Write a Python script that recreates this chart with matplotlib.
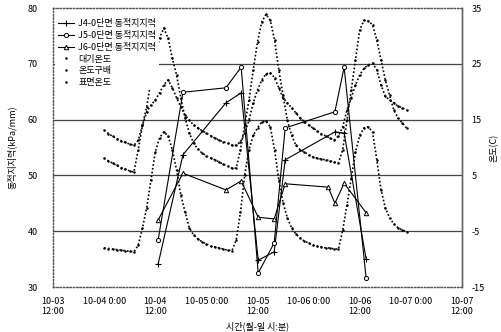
import pandas as pd
import matplotlib
matplotlib.use("Agg")
import matplotlib.pyplot as plt

plt.rcParams['font.family'] = ['Noto Sans CJK KR', 'DejaVu Sans']
plt.rcParams['axes.unicode_minus'] = False

# dynamic bearing capacity (kPa/mm), left axis
j45_time = ['2003-10-04 12:40', '2003-10-04 18:30', '2003-10-05 04:35', '2003-10-05 08:10',
            '2003-10-05 12:10', '2003-10-05 15:55', '2003-10-05 18:30', '2003-10-06 06:10',
            '2003-10-06 08:20', '2003-10-06 13:30']
j6_time = ['2003-10-04 12:40', '2003-10-04 18:30', '2003-10-05 04:35', '2003-10-05 08:10',
           '2003-10-05 12:10', '2003-10-05 15:55', '2003-10-05 18:30', '2003-10-06 04:35',
           '2003-10-06 06:10', '2003-10-06 08:20', '2003-10-06 13:30']
j4 = [34.1, 53.7, 63.0, 64.8, 34.8, 36.3, 52.8, 57.8, 57.6, 35.0]
j5 = [38.4, 64.9, 65.7, 69.4, 32.5, 37.9, 58.5, 61.4, 69.4, 31.6]
j6 = [42.0, 50.4, 47.4, 49.0, 42.5, 42.2, 48.5, 47.9, 45.0, 48.6, 43.3]

# hourly temperatures (C), right axis, from 10-04 0:00
air_temp = [13.1, 12.5, 12.0, 11.6, 11.2, 10.9, 10.6, 10.4, 11.3, 14.0, 16.4, 17.6,
            18.5, 19.8, 21.2, 22.1, 20.7, 18.9, 17.3, 15.8, 14.9, 14.0, 13.5, 13.0,
            12.6, 12.1, 11.7, 11.3, 11.0, 10.8, 10.4, 10.4, 11.0, 12.6, 14.9, 18.0,
            20.3, 22.1, 23.2, 23.4, 22.5, 20.7, 18.9, 18.0, 17.1, 16.2, 15.3, 14.6,
            14.0, 13.5, 13.0, 12.4, 12.1, 11.7, 11.3, 12.1, 13.7, 16.7, 18.9, 21.2,
            23.0, 24.2, 24.8, 25.1, 23.9, 21.2, 19.2, 18.5, 18.0, 17.4, 17.1, 16.7]
gradient = [-8.0, -8.1, -8.2, -8.3, -8.4, -8.5, -8.6, -8.7, -7.5, -4.4, -0.8, 4.2,
            9.2, 11.7, 12.8, 12.1, 9.6, 6.0, 1.5, -1.6, -4.4, -5.7, -6.4, -6.9,
            -7.3, -7.7, -7.8, -8.0, -8.2, -8.4, -8.5, -6.6, -1.6, 5.1, 9.6, 12.2,
            13.5, 14.6, 14.7, 13.7, 9.6, 4.2, 0.1, -2.6, -4.4, -5.5, -6.2, -6.8,
            -7.1, -7.5, -7.7, -7.8, -8.0, -8.0, -8.2, -8.2, -4.8, -0.3, 4.5, 9.2,
            12.2, 13.5, 13.7, 12.8, 7.8, 2.4, -0.8, -2.6, -3.7, -4.4, -4.8, -5.1]
surface_temp = [8.1, 7.6, 7.2, 6.8, 6.4, 6.1, 5.8, 5.6, 9.6, 14.0, 17.3, 22.1,
                26.6, 29.6, 31.4, 29.6, 26.0, 23.0, 18.9, 15.3, 12.6, 10.8, 9.7, 9.0,
                8.5, 8.1, 7.8, 7.4, 7.0, 6.7, 6.3, 6.3, 9.6, 14.0, 18.5, 23.9,
                28.9, 32.5, 33.9, 32.8, 29.3, 23.9, 19.4, 14.9, 12.2, 10.4, 9.6, 9.2,
                8.7, 8.3, 8.1, 7.9, 7.8, 7.6, 7.4, 7.2, 9.6, 14.9, 20.3, 25.7,
                31.1, 32.8, 32.7, 32.0, 29.3, 25.7, 22.1, 19.4, 16.7, 15.3, 14.4, 13.5]
temp_time = pd.date_range('2003-10-04 00:00', periods=len(air_temp), freq='h')

tick_time = pd.date_range('2003-10-03 12:00', '2003-10-07 12:00', freq='12h')
tick_labels = ['10-03\n12:00', '10-04 0:00', '10-04\n12:00', '10-05 0:00', '10-05\n12:00',
               '10-06 0:00', '10-06\n12:00', '10-07 0:00', '10-07\n12:00']

fig = plt.figure(figsize=(5.02, 3.32), dpi=100)
ax = fig.add_axes([0.1056, 0.1355, 0.8147, 0.8404])
ax2 = ax.twinx()

for lv in [40, 50, 60, 70]:
    ax.axhline(lv, color='#444444', lw=0.9, zorder=0)

ax.plot(pd.to_datetime(j45_time), j4, color='k', lw=0.8, marker='+', ms=4, mew=0.8,
        label='J4-0단면 동적지지력')
ax.plot(pd.to_datetime(j45_time), j5, color='k', lw=0.8, marker='o', ms=3, mfc='white',
        mew=0.7, label='J5-0단면 동적지지력')
ax.plot(pd.to_datetime(j6_time), j6, color='k', lw=0.8, marker='^', ms=3.2, mfc='white',
        mew=0.7, label='J6-0단면 동적지지력')

temps = [(air_temp, '대기온도'), (gradient, '온도구배'), (surface_temp, '표면온도')]
for vals, name in temps:
    ax2.plot(temp_time, vals, color='k', lw=1.2, ls=(0, (1, 1.3)))
    ax2.plot(temp_time, vals, color='k', ls='none', marker='.', ms=1.6, label=name)

ax.set_xlim(tick_time[0], tick_time[-1])
ax.set_ylim(30, 80)
ax2.set_ylim(-15, 35)
ax.set_xticks(tick_time)
ax.set_xticklabels(tick_labels)
ax.set_yticks(range(30, 81, 10))
ax2.set_yticks(range(-15, 36, 10))
ax.tick_params(axis='y', length=0, pad=11, labelsize=6.5)
ax.tick_params(axis='x', length=0, pad=7, labelsize=6.5)
ax2.tick_params(axis='y', length=0, pad=7, labelsize=6.5)

for a in (ax, ax2):
    for side in ['left', 'top', 'bottom']:
        a.spines[side].set_linestyle(':')
        a.spines[side].set_color('#555555')
        a.spines[side].set_linewidth(0.9)
    a.spines['right'].set_color('#666666')
    a.spines['right'].set_linewidth(1.0)

ax.set_xlabel('시간(월-일 시:분)', fontsize=6.5, labelpad=4)
ax.set_ylabel('동적지지력(kPa/mm)', fontsize=6.5, labelpad=8)
ax2.set_ylabel('온도(C)', fontsize=6.5, labelpad=3)

h1, l1 = ax.get_legend_handles_labels()
h2, l2 = ax2.get_legend_handles_labels()
leg = ax2.legend(h1 + h2, l1 + l2, loc='upper left', bbox_to_anchor=(0.0, 0.975),
                 fontsize=6.5, frameon=True, facecolor='white', edgecolor='none',
                 framealpha=1, handlelength=1.8, handletextpad=0.5, labelspacing=0.3,
                 borderpad=0.3, borderaxespad=0.2)

fig.savefig('out.png', dpi=100)
